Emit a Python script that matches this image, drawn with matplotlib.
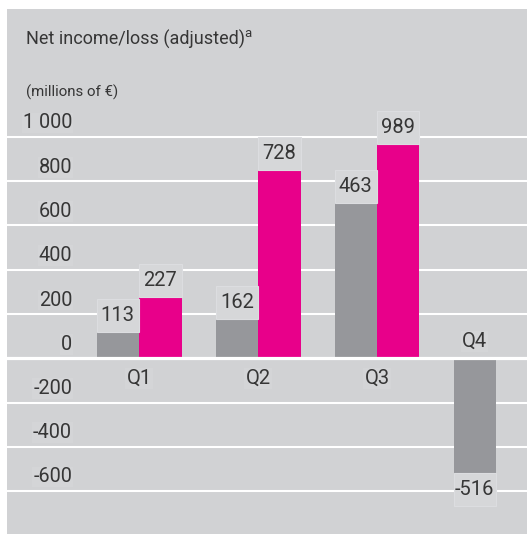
import matplotlib
matplotlib.use("Agg")
import matplotlib.pyplot as plt
from matplotlib.patches import Rectangle
from matplotlib.transforms import blended_transform_factory, offset_copy
import numpy as np

plt.rcParams['font.family'] = ['Roboto', 'DejaVu Sans']

# ---- data ----
quarters = ["Q1", "Q2", "Q3", "Q4"]
grey_values = [117, 177, 703, -520]          # bar heights as drawn
grey_labels = ["113", "162", "463", "-516"]  # printed labels
magenta_values = [278, 851, 968]
magenta_labels = ["227", "728", "989"]
y_ticks = [1000, 800, 600, 400, 200, 0, -200, -400, -600]
y_tick_labels = ["1 000", "800", "600", "400", "200", "0", "-200", "-400", "-600"]
title = "Net income/loss (adjusted)"
title_note = "a"
unit_label = "(millions of €)"

# ---- style ----
W, H = 527, 534
panel_c = "#d1d2d4"
box_c = "#d6d7d9"
box_edge = "#dcdde0"
grey_c = "#96979b"
magenta_c = "#e8008a"
text_c = "#363636"

fig = plt.figure(figsize=(W / 100, H / 100), dpi=100, facecolor="white")
ax = fig.add_axes([7 / W, 0, 520 / W, 525.5 / H])
ax.set_facecolor(panel_c)
for s in ax.spines.values():
    s.set_visible(False)
ax.set_xticks([])
ax.set_yticks([])

px_per_x = 119.0
px_per_y = 0.22125
x0_px, y0_px = 139.0, 358.25
ax.set_xlim((7 - x0_px) / px_per_x, (527 - x0_px) / px_per_x)
ax.set_ylim((y0_px - 534) / px_per_y, (y0_px - 8.5) / px_per_y)

x = np.arange(len(quarters))
bw = 42.5 / px_per_x

# grid lines
for t in y_ticks:
    if t == 0:
        ax.axhline(t, color="white", lw=2.3, zorder=4)
    else:
        ax.axhline(t, color="white", lw=1.5, zorder=1)

# bars
gx = x - bw / 2
mx = x[:len(magenta_values)] + bw / 2
ax.bar(gx, grey_values, bw, color=grey_c, zorder=2, linewidth=0)
ax.bar(mx, magenta_values, bw, color=magenta_c, zorder=2, linewidth=0)

# value label boxes
box_h = 33 / px_per_y

def value_box(xc, v, txt):
    y = v if v >= 0 else v - box_h
    ax.add_patch(Rectangle((xc - bw / 2, y), bw, box_h, facecolor=box_c,
                           edgecolor=box_edge, lw=0.8, zorder=3))
    ax.text(xc, y + box_h / 2, txt, ha="center", va="center", fontsize=14.5,
            color=text_c, zorder=5)

for xc, v, t in zip(gx, grey_values, grey_labels):
    value_box(xc, v, t)
for xc, v, t in zip(mx, magenta_values, magenta_labels):
    value_box(xc, v, t)

# quarter labels
lbl_bbox = dict(boxstyle="square,pad=0.05", fc="#d4d5d7", ec="none")
for i, q in enumerate(quarters):
    if grey_values[i] < 0:
        tr = offset_copy(ax.transData, fig=fig, x=0, y=17, units="dots")
        ax.text(gx[i], 0, q, transform=tr, ha="center", va="center",
                fontsize=14.5, color=text_c, zorder=5, bbox=lbl_bbox)
    else:
        tr = offset_copy(ax.transData, fig=fig, x=0, y=-20, units="dots")
        ax.text(x[i], 0, q, transform=tr, ha="center", va="center",
                fontsize=14.5, color=text_c, zorder=5, bbox=lbl_bbox)

# y tick labels (inside panel, above grid lines)
bt = blended_transform_factory(ax.transAxes, ax.transData)
tt = offset_copy(bt, fig=fig, x=0, y=14, units="dots")
for t, lab in zip(y_ticks, y_tick_labels):
    ax.text((72 - 7) / 520, t, lab, transform=tt, ha="right", va="center",
            fontsize=14.3, color=text_c, zorder=5, bbox=lbl_bbox)

# titles
ttl = fig.text(26 / W, 1 - 45 / H, title, ha="left", va="baseline",
               fontsize=13, color=text_c)
fig.canvas.draw()
ext = ttl.get_window_extent(renderer=fig.canvas.get_renderer())
fig.text((ext.x1 - 1) / W, 1 - 37 / H, title_note, ha="left", va="baseline",
         fontsize=9.5, color=text_c)
fig.text(26 / W, 1 - 97 / H, unit_label, ha="left", va="baseline",
         fontsize=10.8, color=text_c)

fig.savefig("out.png", dpi=100, facecolor="white")
